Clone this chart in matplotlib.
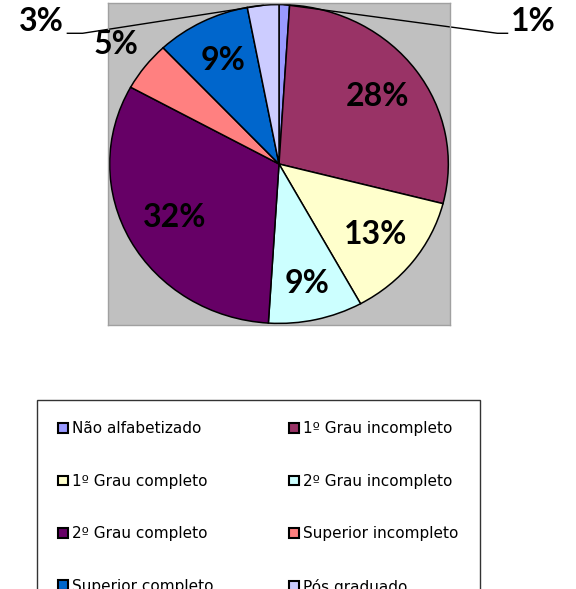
import numpy as np
import matplotlib
matplotlib.use('Agg')
import matplotlib.pyplot as plt

# --- dados ---
categorias = ['Não alfabetizado', '1º Grau incompleto', '1º Grau completo',
              '2º Grau incompleto', '2º Grau completo', 'Superior incompleto',
              'Superior completo', 'Pós graduado']
percentuais = [1, 28, 13, 9, 32, 5, 9, 3]
cores = ['#9999FF', '#993366', '#FFFFCC', '#CCFFFF',
         '#660066', '#FF8080', '#0066CC', '#CCCCFF']

fig = plt.figure(figsize=(5.76, 5.89), dpi=100)
ax = fig.add_axes([108 / 576, 1 - 325 / 589, 342 / 576, 322 / 589])

wedges, _ = ax.pie(percentuais, colors=cores, startangle=90, counterclock=False,
                   wedgeprops=dict(edgecolor='black', linewidth=1.1))
ax.set_aspect('auto')
ax.set_xlim(-1.01, 1.01)
ax.set_ylim(-1.01, 1.01)
ax.set_frame_on(True)
ax.set_facecolor('#C0C0C0')
for s in ax.spines.values():
    s.set_color('#A0A0A0')
    s.set_linewidth(1.0)
ax.set_xticks([])
ax.set_yticks([])

fonte = dict(family='Lato', fontweight='bold', fontsize=23, color='black')

# rótulos dentro/perto das fatias
dist = [None, 0.72, 0.72, 0.77, 0.70, 1.22, 0.73, None]
for w, p, d in zip(wedges, percentuais, dist):
    if d is None:
        continue
    ang = np.deg2rad((w.theta1 + w.theta2) / 2)
    ax.text(d * np.cos(ang), d * np.sin(ang), f'{p}%', ha='center', va='center', **fonte)

# rótulos externos com linha de chamada (1% e 3%)
ang1 = np.deg2rad((wedges[0].theta1 + wedges[0].theta2) / 2)
ax.plot([np.cos(ang1), 1.29, 1.35], [np.sin(ang1), 0.82, 0.82],
        color='black', lw=1.0, clip_on=False)
ax.text(1.37, 0.80, f'{percentuais[0]}%', ha='left', va='bottom', **fonte)

ang3 = np.deg2rad((wedges[7].theta1 + wedges[7].theta2) / 2)
ax.plot([np.cos(ang3), -1.16, -1.25], [np.sin(ang3), 0.82, 0.82],
        color='black', lw=1.0, clip_on=False)
ax.text(-1.27, 0.80, f'{percentuais[7]}%', ha='right', va='bottom', **fonte)

# legenda preenchida por linhas (como no Excel)
ordem = [0, 2, 4, 6, 1, 3, 5, 7]
leg = fig.legend([wedges[i] for i in ordem], [categorias[i] for i in ordem],
                 ncol=2, loc='upper left',
                 bbox_to_anchor=(37 / 576, 1 - 400 / 589 - 0.01, 443 / 576, 0.01),
                 mode='expand', borderaxespad=0,
                 prop=dict(family='DejaVu Sans', size=11),
                 handlelength=0.6, handleheight=0.6, handletextpad=0.3,
                 labelspacing=2.45, borderpad=1.4, columnspacing=4.5,
                 frameon=True, fancybox=False, edgecolor='black')
leg.get_frame().set_linewidth(1.0)
for h in leg.legend_handles:
    h.set_edgecolor('black')
    h.set_linewidth(1.5)

fig.savefig('out.png', dpi=100)
